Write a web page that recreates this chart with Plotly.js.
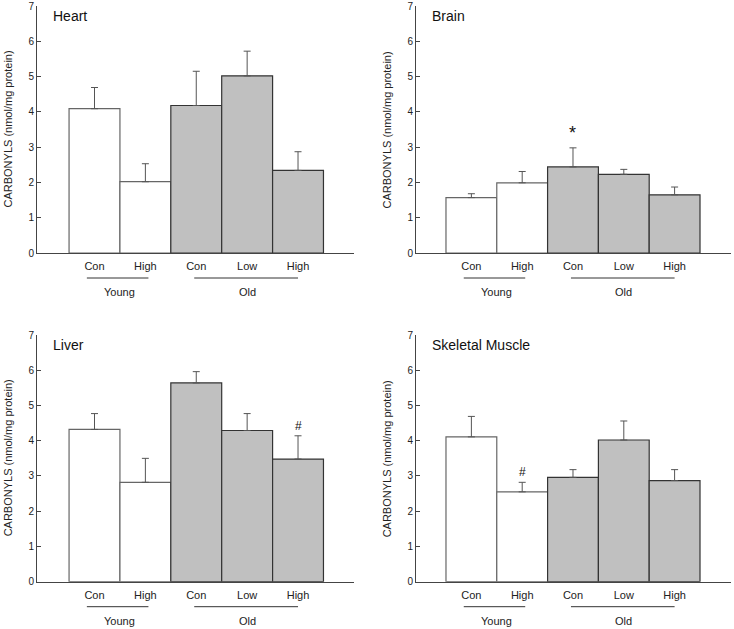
<!DOCTYPE html>
<html>
<head>
<meta charset="utf-8">
<script src="https://cdn.plot.ly/plotly-3.0.1.min.js"></script>
<style>
  body { margin: 0; background: #fff; }
  #grafico { width: 734px; height: 629px; }
</style>
</head>
<body>
<div id="grafico"></div>
<script>
// categorias (indices 0-1 = Young, 2-4 = Old)
const categorias = ['Con', 'High', 'Con', 'Low', 'High'];
const grupos = ['Young', 'Old'];
const idxYoung = [0, 1];
const idxOld = [2, 3, 4];

// medias y error (solo hacia arriba)
const heartMedia = [4.09, 2.02, 4.18, 5.02, 2.34];
const heartError = [0.60, 0.51, 0.97, 0.70, 0.53];
const brainMedia = [1.57, 1.99, 2.44, 2.23, 1.65];
const brainError = [0.11, 0.32, 0.54, 0.14, 0.22];
const liverMedia = [4.32, 2.82, 5.64, 4.29, 3.48];
const liverError = [0.45, 0.68, 0.32, 0.48, 0.66];
const muscleMedia = [4.11, 2.55, 2.96, 4.02, 2.87];
const muscleError = [0.58, 0.27, 0.22, 0.54, 0.31];

const W = 734, H = 629;
const fuente = 'Liberation Sans, Arial, sans-serif';
const gris = '#c0c0c0';
const lineaEje = '#444';

const paneles = [
    { titulo: 'Heart', media: heartMedia, error: heartError, marca: null,
      x0: 37, x1: 354, top: 6, bottom: 253, rango: [-1.13, 5.1] },
    { titulo: 'Brain', media: brainMedia, error: brainError, marca: { i: 2, txt: '*' },
      x0: 416, x1: 731, top: 6, bottom: 253, rango: [-1.09, 5.11] },
    { titulo: 'Liver', media: liverMedia, error: liverError, marca: { i: 4, txt: '#' },
      x0: 37, x1: 354, top: 335, bottom: 581.7, rango: [-1.13, 5.1] },
    { titulo: 'Skeletal Muscle', media: muscleMedia, error: muscleError, marca: { i: 1, txt: '#' },
      x0: 416, x1: 731, top: 335, bottom: 581.7, rango: [-1.09, 5.11] }
];

const px = x => x / W;
const py = y => 1 - y / H;

const trazas = [];
const layout = {
    width: W, height: H,
    margin: { l: 0, r: 0, t: 0, b: 0 },
    paper_bgcolor: '#fff', plot_bgcolor: 'rgba(0,0,0,0)',
    showlegend: false,
    barmode: 'overlay',
    font: { family: fuente, color: '#222' },
    annotations: [],
    shapes: []
};

paneles.forEach((p, k) => {
    const n = k + 1;
    const xa = 'x' + (n === 1 ? '' : n);
    const ya = 'y' + (n === 1 ? '' : n);

    const serie = (idx, relleno, borde) => ({
        type: 'bar',
        x: idx,
        y: idx.map(i => p.media[i]),
        width: 1,
        xaxis: xa, yaxis: ya,
        marker: { color: relleno, line: { color: borde, width: 1.2 } },
        error_y: {
            type: 'data', symmetric: false,
            array: idx.map(i => p.error[i]),
            arrayminus: idx.map(() => 0),
            color: '#555', thickness: 1, width: 3.5
        },
        hoverinfo: 'skip'
    });
    trazas.push(serie(idxYoung, '#ffffff', '#666'));
    trazas.push(serie(idxOld, gris, '#333'));

    layout['xaxis' + (n === 1 ? '' : n)] = {
        domain: [px(p.x0), px(p.x1)],
        anchor: ya,
        range: p.rango,
        showline: true, linecolor: lineaEje, linewidth: 1,
        showgrid: false, zeroline: false,
        ticks: '',
        tickvals: categorias.map((c, i) => i),
        ticktext: categorias,
        tickfont: { size: 11, family: fuente, color: '#222' },
        ticklabelstandoff: 3,
        fixedrange: true
    };
    layout['yaxis' + (n === 1 ? '' : n)] = {
        domain: [py(p.bottom), py(p.top)],
        anchor: xa,
        range: [0, 7],
        dtick: 1,
        showline: true, linecolor: lineaEje, linewidth: 1,
        showgrid: false, zeroline: false,
        ticks: 'inside', ticklen: 4, tickcolor: lineaEje,
        tickfont: { size: 10, family: fuente, color: '#222' },
        fixedrange: true
    };

    // titulo del panel
    layout.annotations.push({
        text: p.titulo, xref: 'paper', yref: 'paper',
        x: px(p.x0 + 14), y: py(p.top + 10), xanchor: 'left', yanchor: 'middle',
        showarrow: false, font: { size: 14, family: fuente, color: '#111' }
    });
    // titulo eje y
    layout.annotations.push({
        text: 'CARBONYLS (nmol/mg protein)', xref: 'paper', yref: 'paper',
        x: px(p.x0 - 29), y: py((p.top + p.bottom) / 2),
        xanchor: 'center', yanchor: 'middle', textangle: -90,
        showarrow: false, font: { size: 11, family: fuente, color: '#222' }
    });

    // grupos Young / Old
    const margenLinea = [[-0.15, 0.06], [-0.04, 0.0]];
    [idxYoung, idxOld].forEach((idx, g) => {
        const a = idx[0], b = idx[idx.length - 1];
        layout.shapes.push({
            type: 'line', xref: xa, yref: 'paper',
            x0: a + margenLinea[g][0], x1: b + margenLinea[g][1],
            y0: py(p.bottom + 25), y1: py(p.bottom + 25),
            line: { color: '#333', width: 1 }
        });
        layout.annotations.push({
            text: grupos[g], xref: xa, yref: 'paper',
            x: (a + b) / 2, y: py(p.bottom + 39),
            xanchor: 'center', yanchor: 'middle', showarrow: false,
            font: { size: 11, family: fuente, color: '#222' }
        });
    });

    // marcas de significancia
    if (p.marca) {
        const i = p.marca.i;
        const esEstrella = p.marca.txt === '*';
        layout.annotations.push({
            text: p.marca.txt, xref: xa, yref: ya,
            x: i, y: p.media[i] + p.error[i],
            xanchor: 'center', yanchor: 'bottom',
            yshift: esEstrella ? 3 : 1, showarrow: false,
            font: { size: esEstrella ? 18 : 12, family: fuente, color: '#111' }
        });
    }
});

Plotly.newPlot('grafico', trazas, layout, { staticPlot: true });
</script>
</body>
</html>
